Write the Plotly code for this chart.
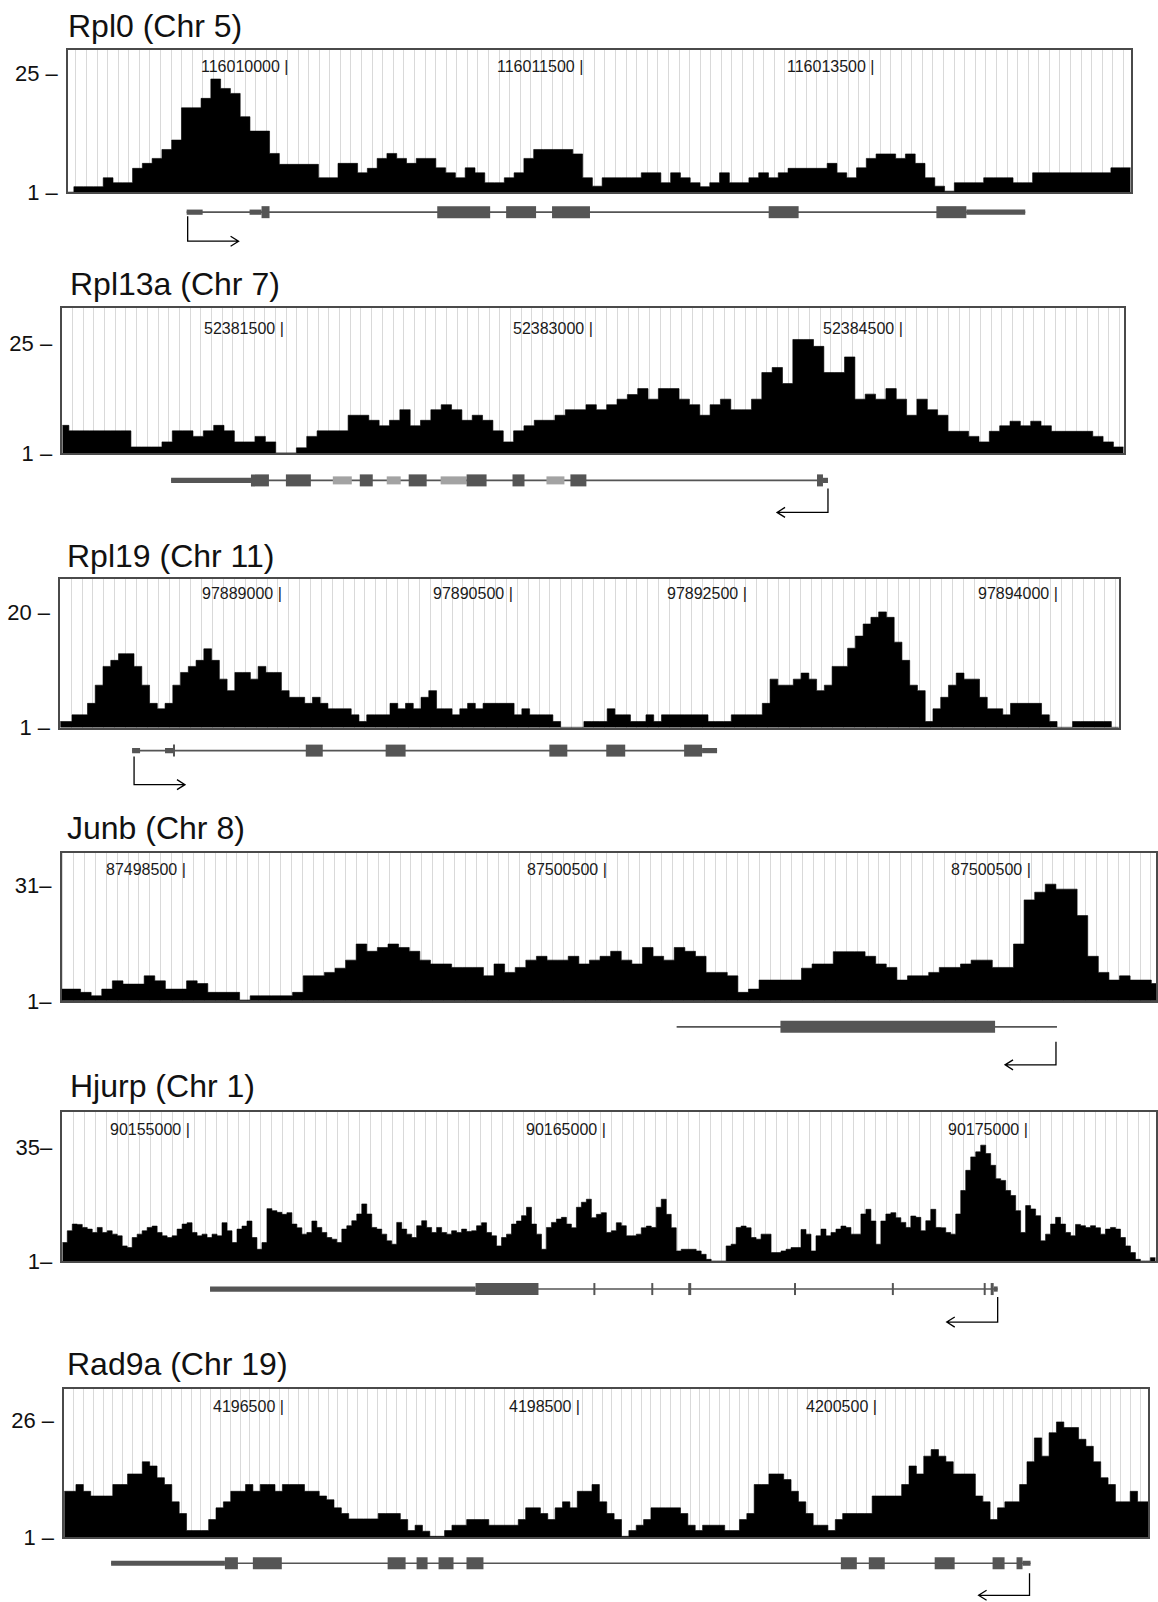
import plotly.graph_objects as go

FIG_W, FIG_H = 1158, 1602
Y_STRETCH = 1.009   # small vertical correction of the pixel geometry below

# ---------------- data ----------------
titles = ["Rpl0 (Chr 5)", "Rpl13a (Chr 7)", "Rpl19 (Chr 11)", "Junb (Chr 8)", "Hjurp (Chr 1)", "Rad9a (Chr 19)"]
ytick_vals = [25, 25, 20, 31, 35, 26]
ytick_text = [["1 \u2013", "25 \u2013"], ["1 \u2013", "25 \u2013"], ["1 \u2013", "20 \u2013"],
              ["1\u2013", "31\u2013"], ["1\u2013", "35\u2013"], ["1 \u2013", "26 \u2013"]]

rpl0_labels = ["116010000 |", "116011500 |", "116013500 |"]
rpl13a_labels = ["52381500 |", "52383000 |", "52384500 |"]
rpl19_labels = ["97889000 |", "97890500 |", "97892500 |", "97894000 |"]
junb_labels = ["87498500 |", "87500500 |", "87500500 |"]
hjurp_labels = ["90155000 |", "90165000 |", "90175000 |"]
rad9a_labels = ["4196500 |", "4198500 |", "4200500 |"]

rpl0_cov = [1.0, 2.1, 2.1, 2.1, 3.9, 2.9, 2.9, 5.8, 6.8, 7.8, 9.6, 11.5, 18.0, 18.0, 19.9, 23.8, 21.9, 20.9,
            16.2, 13.3, 13.3, 8.8, 6.6, 6.6, 6.6, 6.6, 3.9, 3.9, 6.8, 6.8, 4.9, 5.8, 7.8, 8.8,
            7.8, 6.8, 7.8, 7.8, 5.9, 4.9, 3.9, 5.9, 4.9, 2.9, 2.9, 3.9, 4.9, 7.8, 9.6, 9.6, 9.6, 9.6, 8.7,
            3.9, 2.2, 3.9, 3.9, 3.9, 3.9, 4.9, 4.9, 2.9, 4.9, 3.9, 2.9, 2.1, 2.9, 4.9, 2.9, 2.9, 3.9, 4.9,
            3.9, 4.9,
            5.8, 5.8, 5.8, 5.8, 6.8, 4.9, 3.9, 5.9, 7.8, 8.7, 8.7, 7.8, 8.7, 6.8, 3.9, 2.2, 1.2, 2.9, 2.9,
            2.9, 3.9, 3.9, 3.9, 2.9, 2.9, 4.9, 4.9, 4.9, 4.9, 4.9, 4.9, 4.9, 4.9, 5.9, 5.9]

rpl13a_cov = [7.1, 5.9, 5.9, 5.9, 5.9, 5.9, 5.9, 2.4, 2.4, 2.4, 3.5, 5.9, 5.9, 4.7, 5.9, 7.1, 5.9, 3.5, 3.5,
              4.7, 3.5, 1.1, 1.1, 2.2, 4.7, 5.9, 5.9, 5.9, 9.3, 9.3, 8.2, 7.0, 8.2, 10.5, 7.0, 8.2, 10.5,
              11.6, 10.5, 8.2, 9.3, 8.2, 5.9, 3.5, 5.9, 7.0, 8.2, 8.2, 9.3, 10.5, 10.5, 11.6,
              10.5, 11.6, 12.8, 13.8, 15.1, 12.8, 15.1, 15.1, 12.8, 11.6, 9.3, 11.6, 12.8, 10.5, 10.5, 12.8,
              18.6, 19.7, 16.2, 25.8, 25.8, 24.3, 18.6, 18.6, 22.0, 12.8, 13.9, 12.8, 15.1, 12.8, 9.3, 12.8,
              10.5, 9.3, 5.8, 5.8, 4.7, 3.5, 5.8, 7.0, 8.0, 7.0, 8.0, 7.0, 5.8, 5.8, 5.8, 5.8, 4.7, 3.5, 2.4]

rpl19_cov = [2.0, 3.1, 3.1, 5.0, 8.0, 11.1, 12.1, 13.2, 13.2, 11.1, 8.0, 5.0, 4.1, 5.0, 8.0, 10.1, 11.1, 12.1,
             14.0, 12.1, 9.0, 7.1, 10.1, 10.1, 9.0, 11.1, 10.1, 10.1, 7.1, 6.0, 6.0, 5.0, 6.0, 5.0, 4.1, 4.1,
             4.1, 3.1, 2.0, 3.1, 3.1, 3.1, 5.0, 4.1, 5.0, 4.1, 6.0, 7.1, 4.1, 4.1, 3.1, 4.1, 5.0, 4.1, 5.0,
             5.0, 5.0, 5.0, 3.1, 4.1, 3.1, 3.1, 3.1, 2.0,
             1.05, 1.05, 1.05, 2.0, 2.0, 2.0, 4.1, 3.1, 3.1, 2.0, 2.0, 3.1, 2.0, 3.1, 3.1, 3.1, 3.1, 3.1, 3.1,
             2.0, 2.0, 2.0, 3.1, 3.1, 3.1, 3.1, 5.0, 9.0, 8.0, 8.0, 9.0, 10.0, 9.0, 7.1, 8.0, 11.1, 11.1,
             14.1, 16.1, 18.1, 19.2, 20.1, 19.2, 15.1, 12.1, 8.0, 7.1, 2.0, 4.1, 6.0, 8.0, 10.0, 9.0, 9.0,
             6.0, 4.1, 4.1, 3.1, 5.0, 5.0, 5.0, 5.0, 3.1, 2.0, 1.05, 1.05, 2.0, 2.0, 2.0, 2.0, 2.0, 1.05]

junb_cov = [4.05, 3.2, 2.3, 4.05, 6.2, 5.35, 5.35, 7.5, 6.2, 4.05, 4.05, 6.2, 5.5, 3.2, 3.2, 3.2, 1.2, 2.3,
            2.3, 2.3, 2.3, 3.2, 7.5, 7.5, 8.4, 9.5, 11.6, 15.8, 13.9, 14.9, 15.8, 14.9, 13.9, 11.6, 10.6,
            10.6, 9.7, 9.7, 9.7, 7.5, 10.6, 8.4, 9.7, 11.6, 12.6, 11.6, 11.6,
            12.6, 10.6, 11.6, 12.6, 13.9, 11.6, 10.6, 14.9, 12.6, 11.6, 14.9, 13.9, 12.6, 8.4, 8.4, 7.5, 3.2,
            4.05, 6.4, 6.4, 6.4, 6.4, 9.5, 10.6, 10.6, 13.8, 13.8, 13.8, 12.6, 10.6, 9.7, 6.4, 7.5, 7.5, 8.4,
            9.7, 9.7, 10.6, 11.6, 11.6, 9.7, 9.7, 15.8, 27.3, 29.3, 31.4, 30.1, 30.1, 23.2, 12.6, 8.4, 6.4,
            7.5, 6.4, 6.4, 5.5]

hjurp_cov = [6.5, 10, 12, 11.9, 11, 10.5, 9.5, 11, 9.5, 10, 9, 8.5, 5.5, 5, 8, 9, 10, 11, 11.4, 9.5, 8.5, 8,
             8.5, 10.5, 12, 12.4, 9.5, 8.5, 9, 8, 9, 8.5, 12.4, 10, 6.5, 10.5, 11.4, 12.9, 8, 4.5, 6.5, 16.6,
             16, 15.5, 14.9, 15.4, 12, 10.9, 9, 9.5, 12.9, 11, 9.5, 8, 7.5, 6.5, 10.5, 11.5, 13, 15, 18, 15,
             11, 10.5, 9, 7, 6, 12.5, 10.5, 9, 8, 11.5, 13, 11, 9.5, 11, 9.5, 9, 10, 9.5, 10.5, 9.8, 10, 11.5,
             12.4, 9.5, 8.5, 5.5, 8, 9, 12, 12.9, 14.5, 17, 12, 9, 4.5, 11, 12.5, 13.5, 14, 12, 10.9, 17,
             18.5, 19.4, 13.9, 14.9, 15.4, 9.5, 10, 12.4, 11.5, 8.5, 8.5, 9, 10.9, 11.4, 11, 17, 19.4, 14.9,
             10.9, 4, 4.5, 4.5, 4.5, 4, 3, 1.5, 1, 1, 1, 5.5, 6, 11, 11.4, 10.9, 8, 7.5, 9, 9, 3.5, 3.5, 4,
             4.5, 5, 5, 10.4, 9, 4, 8.5, 10.5, 8.5, 9.5, 10.5, 11.4, 11, 9, 9, 15, 16.4, 12.9, 6, 12.9, 15,
             15.4, 13.9, 12.5, 11, 14.4, 14, 10, 13, 16.4, 11, 10.9, 9.5, 9, 15, 22, 28, 32, 33.5, 35.5, 33,
             29.5, 25.5, 25, 22, 20.5, 16, 9.5, 17.5, 16.5, 14.5, 7, 9, 12, 14, 12, 9.5, 8.5, 11.9, 11.5, 11,
             11.5, 10.9, 9, 10.5, 11, 10.5, 8, 5.5, 3.5, 1.5, 1, 1, 2]

rad9a_cov = [10.8, 10.8, 12.25, 10.8, 9.8, 9.8, 9.8, 12.25, 12.25, 14.5, 14.5, 17.1, 16.2, 13.7, 12.25, 8.55,
             6.06, 2.43, 2.43, 2.43, 4.77, 7.27, 8.55, 10.8, 10.8, 12.25, 10.8, 12.25, 12.25, 10.8, 12.25,
             12.25, 12.25, 10.8, 10.8, 9.8, 9.0, 7.27, 6.06, 4.92, 4.92, 4.92, 4.92, 6.06, 6.06, 6.06, 4.77,
             2.43, 3.56, 2.28, 1.2, 1.2, 2.43, 3.56, 3.56, 4.77, 4.77, 4.77, 3.56, 3.56, 3.56, 3.56, 4.77,
             7.27, 7.27, 6.06, 4.77, 7.27, 8.55, 7.27, 10.8, 10.8, 12.25, 8.55, 6.06, 4.77, 1.2, 2.43, 3.56,
             4.77, 7.27, 7.27, 7.27, 7.27, 6.06, 3.56, 2.43, 3.56, 3.56, 3.56, 2.43, 2.43, 4.77, 6.06, 12.25,
             12.25, 14.5, 14.5, 13.3, 10.8, 8.55, 6.06, 3.56, 3.56, 2.43, 4.77, 6.06, 6.06, 6.06, 6.06, 9.8,
             9.8, 9.8, 9.8, 12.25, 16.2, 14.5, 18.3, 19.7, 18.3, 17.1, 14.5, 14.5, 14.5, 9.8, 8.55, 4.77,
             7.27, 8.55, 8.55, 12.25, 17.1, 22.2, 18.3, 23.3, 25.6, 24.4, 24.4, 21.9, 20.4, 17.1, 13.7, 12.25,
             8.55, 8.55, 10.8, 8.55, 8.55]

# gene models (positions along each window, same units as the coverage x axis)
rpl0_line = [119, 959]
rpl0_utr = [[119, 135], [182, 194], [900, 959]]
rpl0_exons = [[194, 202], [370, 423], [439, 469], [485, 523], [702, 732], [870, 900]]
rpl0_light = []
rpl0_tss = [120, 1]

rpl13a_line = [109, 767]
rpl13a_utr = [[109, 189], [762, 767]]
rpl13a_exons = [[189, 207], [224, 249], [298, 311], [347, 365], [405, 425], [451, 463], [509, 525], [756, 762]]
rpl13a_light = [[271, 290], [325, 339], [379, 405], [485, 503]]
rpl13a_tss = [767, -1]

rpl19_line = [72, 658]
rpl19_utr = [[72, 80], [105, 113], [643, 658]]
rpl19_exons = [[113, 115], [246, 263], [326, 346], [490, 508], [547, 566], [625, 643]]
rpl19_light = []
rpl19_tss = [74, 1]

junb_line = [616, 997]
junb_utr = []
junb_exons = [[720, 935]]
junb_light = []
junb_tss = [996, -1]

hjurp_line = [148, 937]
hjurp_utr = [[148, 414], [933, 937]]
hjurp_exons = [[414, 477], [532, 534], [590, 592], [627, 630], [733, 735], [831, 833], [923, 925], [930, 933]]
hjurp_light = []
hjurp_tss = [937, -1]

rad9a_line = [47, 968]
rad9a_utr = [[47, 161], [960, 968]]
rad9a_exons = [[161, 174], [189, 218], [324, 342], [353, 364], [375, 390], [403, 420], [778, 794], [806, 822],
               [872, 892], [930, 942], [954, 960]]
rad9a_light = []
rad9a_tss = [967, -1]

# ---------------- layout (pixel geometry) ----------------
panels = [
    dict(cov=rpl0_cov, labels=rpl0_labels, gl=rpl0_line, utr=rpl0_utr, ex=rpl0_exons, lt=rpl0_light, tss=rpl0_tss,
         box=(68, 1133, 50, 192), ymax=29.64, first=6.0, bw=9.8, grid=(8, 10.6), gene_y=212, arr=(216, 241),
         title_xy=(66, 26), label_y=66, label_x=[223.7, 517.7, 810.3]),
    dict(cov=rpl13a_cov, labels=rpl13a_labels, gl=rpl13a_line, utr=rpl13a_utr, ex=rpl13a_exons, lt=rpl13a_light,
         tss=rpl13a_tss, box=(62.4, 1125.5, 308, 453), ymax=32.6, first=6.6, bw=10.36, grid=(10.3, 10.7),
         gene_y=480, arr=(488, 512), title_xy=(68, 284), label_y=328, label_x=[223.9, 533.5, 844.6]),
    dict(cov=rpl19_cov, labels=rpl19_labels, gl=rpl19_line, utr=rpl19_utr, ex=rpl19_exons, lt=rpl19_light,
         tss=rpl19_tss, box=(60.3, 1120.6, 579, 727), ymax=25.45, first=11.8, bw=7.77, grid=(11, 10.9),
         gene_y=750, arr=(756, 784), title_xy=(65, 556), label_y=593, label_x=[223.8, 455.8, 690.4, 1001.6]),
    dict(cov=junb_cov, labels=junb_labels, gl=junb_line, utr=junb_utr, ex=junb_exons, lt=junb_light, tss=junb_tss,
         box=(61.8, 1158, 852, 1000), ymax=39.6, first=18.9, bw=10.62, grid=(12, 10.9), gene_y=1026,
         arr=(1041, 1064), title_xy=(65, 827), label_y=869, label_x=[126.9, 547.8, 973]),
    dict(cov=hjurp_cov, labels=hjurp_labels, gl=hjurp_line, utr=hjurp_utr, ex=hjurp_exons, lt=hjurp_light,
         tss=hjurp_tss, box=(62.4, 1158, 1111, 1260), ymax=45.4, first=5.0, bw=5.0, grid=(11.5, 11.0),
         gene_y=1288, arr=(1296, 1321), title_xy=(68, 1085), label_y=1129, label_x=[129.7, 546.3, 969]),
    dict(cov=rad9a_cov, labels=rad9a_labels, gl=rad9a_line, utr=rad9a_utr, ex=rad9a_exons, lt=rad9a_light,
         tss=rad9a_tss, box=(64.3, 1150, 1388, 1536), ymax=32.6, first=4.4, bw=7.385, grid=(9.6, 9.8),
         gene_y=1562, arr=(1572, 1594), title_xy=(65, 1363), label_y=1405, label_x=[222.3, 519.2, 816]),
]

FONT = "Liberation Sans, Arial, Helvetica, sans-serif"
GENE_COL = "#555555"
LIGHT_COL = "#a3a3a3"
BOX_COL = "#4a4a4a"


def py(v):
    return 1 - v * Y_STRETCH / FIG_H


fig = go.Figure()
shapes = []
annotations = []
layout_axes = {}

for i, p in enumerate(panels):
    n = i + 1
    xa = "x" if n == 1 else f"x{n}"
    ya = "y" if n == 1 else f"y{n}"
    xkey = "xaxis" if n == 1 else f"xaxis{n}"
    ykey = "yaxis" if n == 1 else f"yaxis{n}"
    left, right, top, bottom = p["box"]
    W = right - left
    vals = p["cov"]
    nb = len(vals)
    xs = [0.0] + [p["first"] + k * p["bw"] for k in range(nb)]
    ys = list(vals) + [vals[-1]]
    fig.add_trace(go.Scatter(x=xs, y=ys, mode="lines", line=dict(color="black", width=0.6, shape="hv"),
                             fill="tozeroy", fillcolor="black", xaxis=xa, yaxis=ya, hoverinfo="skip",
                             showlegend=False))

    layout_axes[xkey] = dict(domain=[left / FIG_W, min(right / FIG_W, 1.0)], range=[0, W], anchor=ya,
                             showgrid=True, gridcolor="#d9d9d9", gridwidth=1, tickmode="linear",
                             tick0=p["grid"][0], dtick=p["grid"][1], showticklabels=False, ticks="",
                             zeroline=False, showline=True, mirror=True, linecolor=BOX_COL, linewidth=1.5,
                             fixedrange=True)
    layout_axes[ykey] = dict(domain=[max(py(bottom), 0), min(py(top), 1)], range=[1, p["ymax"]], anchor=xa,
                             tickmode="array", tickvals=[1, ytick_vals[i]], ticktext=ytick_text[i],
                             ticks="", showgrid=False, zeroline=False, showline=True, mirror=True,
                             linecolor=BOX_COL, linewidth=1.5, ticklabelstandoff=4,
                             tickfont=dict(family=FONT, size=22, color="#111111"), fixedrange=True)

    annotations.append(dict(text=titles[i], x=p["title_xy"][0] / FIG_W, y=py(p["title_xy"][1]),
                            xref="paper", yref="paper", xanchor="left", yanchor="middle", showarrow=False,
                            font=dict(family=FONT, size=32, color="#111111")))
    for lab, lx in zip(p["labels"], p["label_x"]):
        annotations.append(dict(text=lab, x=lx, y=py(p["label_y"]), xref=xa, yref="paper",
                                xanchor="right", yanchor="middle", showarrow=False,
                                font=dict(family=FONT, size=16, color="#1a1a1a")))

    gy = p["gene_y"]
    shapes.append(dict(type="line", xref=xa, yref="paper", x0=p["gl"][0], x1=p["gl"][1], y0=py(gy), y1=py(gy),
                       line=dict(color=GENE_COL, width=1.6)))
    for a, b in p["utr"]:
        shapes.append(dict(type="rect", xref=xa, yref="paper", x0=a, x1=b, y0=py(gy + 2.6), y1=py(gy - 2.6),
                           fillcolor=GENE_COL, line=dict(width=0)))
    for a, b in p["lt"]:
        shapes.append(dict(type="rect", xref=xa, yref="paper", x0=a, x1=b, y0=py(gy + 4), y1=py(gy - 4),
                           fillcolor=LIGHT_COL, line=dict(width=0)))
    for a, b in p["ex"]:
        shapes.append(dict(type="rect", xref=xa, yref="paper", x0=a, x1=b, y0=py(gy + 6), y1=py(gy - 6),
                           fillcolor=GENE_COL, line=dict(width=0)))
    tx, d = p["tss"]
    y0, y1 = p["arr"]
    xe = tx + d * 51
    path = (f"M {tx},{py(y0)} L {tx},{py(y1)} L {xe},{py(y1)} "
            f"M {xe - d * 8},{py(y1 - 5)} L {xe},{py(y1)} L {xe - d * 8},{py(y1 + 5)}")
    shapes.append(dict(type="path", xref=xa, yref="paper", path=path, line=dict(color="black", width=1.3)))

fig.update_layout(width=FIG_W, height=FIG_H, margin=dict(l=0, r=0, t=0, b=0), paper_bgcolor="white",
                  plot_bgcolor="white", showlegend=False, shapes=shapes, annotations=annotations,
                  font=dict(family=FONT), **layout_axes)

fig.write_html("out.html", config={"displayModeBar": False},
               post_script="document.body.style.margin='0px';document.body.style.overflow='hidden';")
